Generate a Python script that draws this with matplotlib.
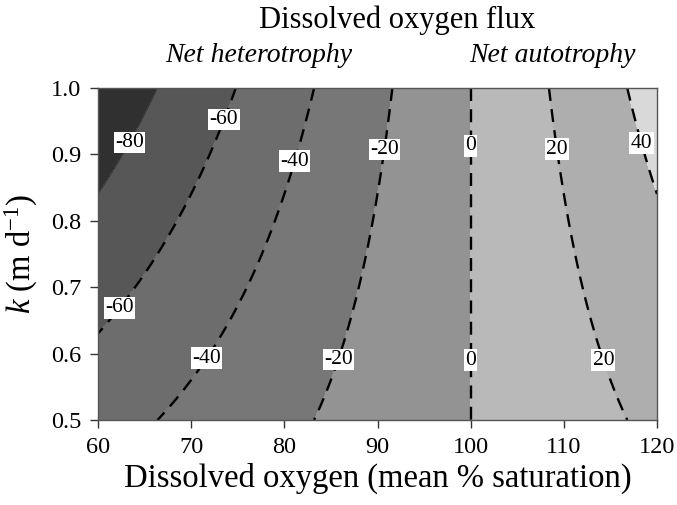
import numpy as np
import matplotlib
matplotlib.use("Agg")
import matplotlib.pyplot as plt

plt.rcParams['font.family'] = ['Liberation Serif', 'DejaVu Serif']
plt.rcParams['mathtext.fontset'] = 'custom'
plt.rcParams['mathtext.rm'] = 'Liberation Serif'
plt.rcParams['mathtext.it'] = 'Liberation Serif:italic'

# Axis ranges: mean dissolved-oxygen saturation (%) and gas transfer velocity k (m/d)
do_range = [60, 120]
k_range = [0.5, 1.0]
# Oxygen concentration at 100 % saturation (mmol m^-3)
o2_sat = 238.0

# Contour levels and band shading
levels = [-80, -60, -40, -20, 0, 20, 40]
fill_levels = [-200, -80, -60, -40, -20, 0, 20, 40, 200]
fill_colors = ['#303030', '#575757', '#6d6d6d', '#777777',
               '#939393', '#b9b9b9', '#aeaeae', '#d9d9d9']

# Where each contour label sits (DO %, k)
label_points = [(63.9, 0.914), (73.6, 0.952), (81.3, 0.889), (91.0, 0.907),
                (99.9, 0.913), (109.2, 0.908), (118.3, 0.917),
                (62.5, 0.667), (72.0, 0.59), (86.0, 0.59), (100.0, 0.59),
                (114.2, 0.59)]

x_ticks = [60, 70, 80, 90, 100, 110, 120]
y_ticks = [0.5, 0.6, 0.7, 0.8, 0.9, 1.0]

do = np.linspace(do_range[0], do_range[1], 601)
kk = np.linspace(k_range[0], k_range[1], 501)
DO, K = np.meshgrid(do, kk)
# Air-water flux F = k (C - Csat), in mmol m^-2 d^-1
flux = K * o2_sat * (DO - 100.0) / 100.0

fig = plt.figure(figsize=(6.77, 5.05), dpi=100)
ax = fig.add_axes([98 / 677, 1 - 420 / 505, 559 / 677, 332 / 505])

ax.contourf(DO, K, flux, levels=fill_levels, colors=fill_colors)

line_colors = ['#303030'] + ['black'] * (len(levels) - 1)
line_styles = ['solid'] + [(0, (5.5, 3.5))] * (len(levels) - 1)
line_widths = [0.6] + [1.7] * (len(levels) - 1)
cs = ax.contour(DO, K, flux, levels=levels, colors=line_colors,
                linestyles=line_styles, linewidths=line_widths)
labels = ax.clabel(cs, fmt=lambda v: f"{v:.0f}", manual=label_points,
                   inline=False, fontsize=15.5, colors='black')
for t in labels:
    t.set_rotation(0)
    t.set_bbox(dict(facecolor='white', edgecolor='none', pad=1.0))

ax.set_xlim(do_range)
ax.set_ylim(k_range)
ax.set_xticks(x_ticks)
ax.set_xticklabels([str(v) for v in x_ticks])
ax.set_yticks(y_ticks)
ax.set_yticklabels([f"{v:.1f}" for v in y_ticks])
ax.tick_params(direction='out', length=6, width=1, labelsize=17.5, pad=6,
               color='#333333')
for s in ax.spines.values():
    s.set_color('#555555')
    s.set_linewidth(1.0)

ax.set_xlabel('Dissolved oxygen (mean % saturation)', fontsize=23.5, labelpad=4)
ax.set_ylabel(r'$k$ (m d$^{-1}$)', fontsize=23.5, labelpad=8)

fig.text(397 / 677, 1 - 20 / 505, 'Dissolved oxygen flux', fontsize=22,
         ha='center', va='center')
fig.text(259 / 677, 1 - 55 / 505, 'Net heterotrophy', fontsize=20,
         style='italic', ha='center', va='center')
fig.text(552 / 677, 1 - 55 / 505, 'Net autotrophy', fontsize=20,
         style='italic', ha='center', va='center')

fig.savefig('out.png', dpi=100)
